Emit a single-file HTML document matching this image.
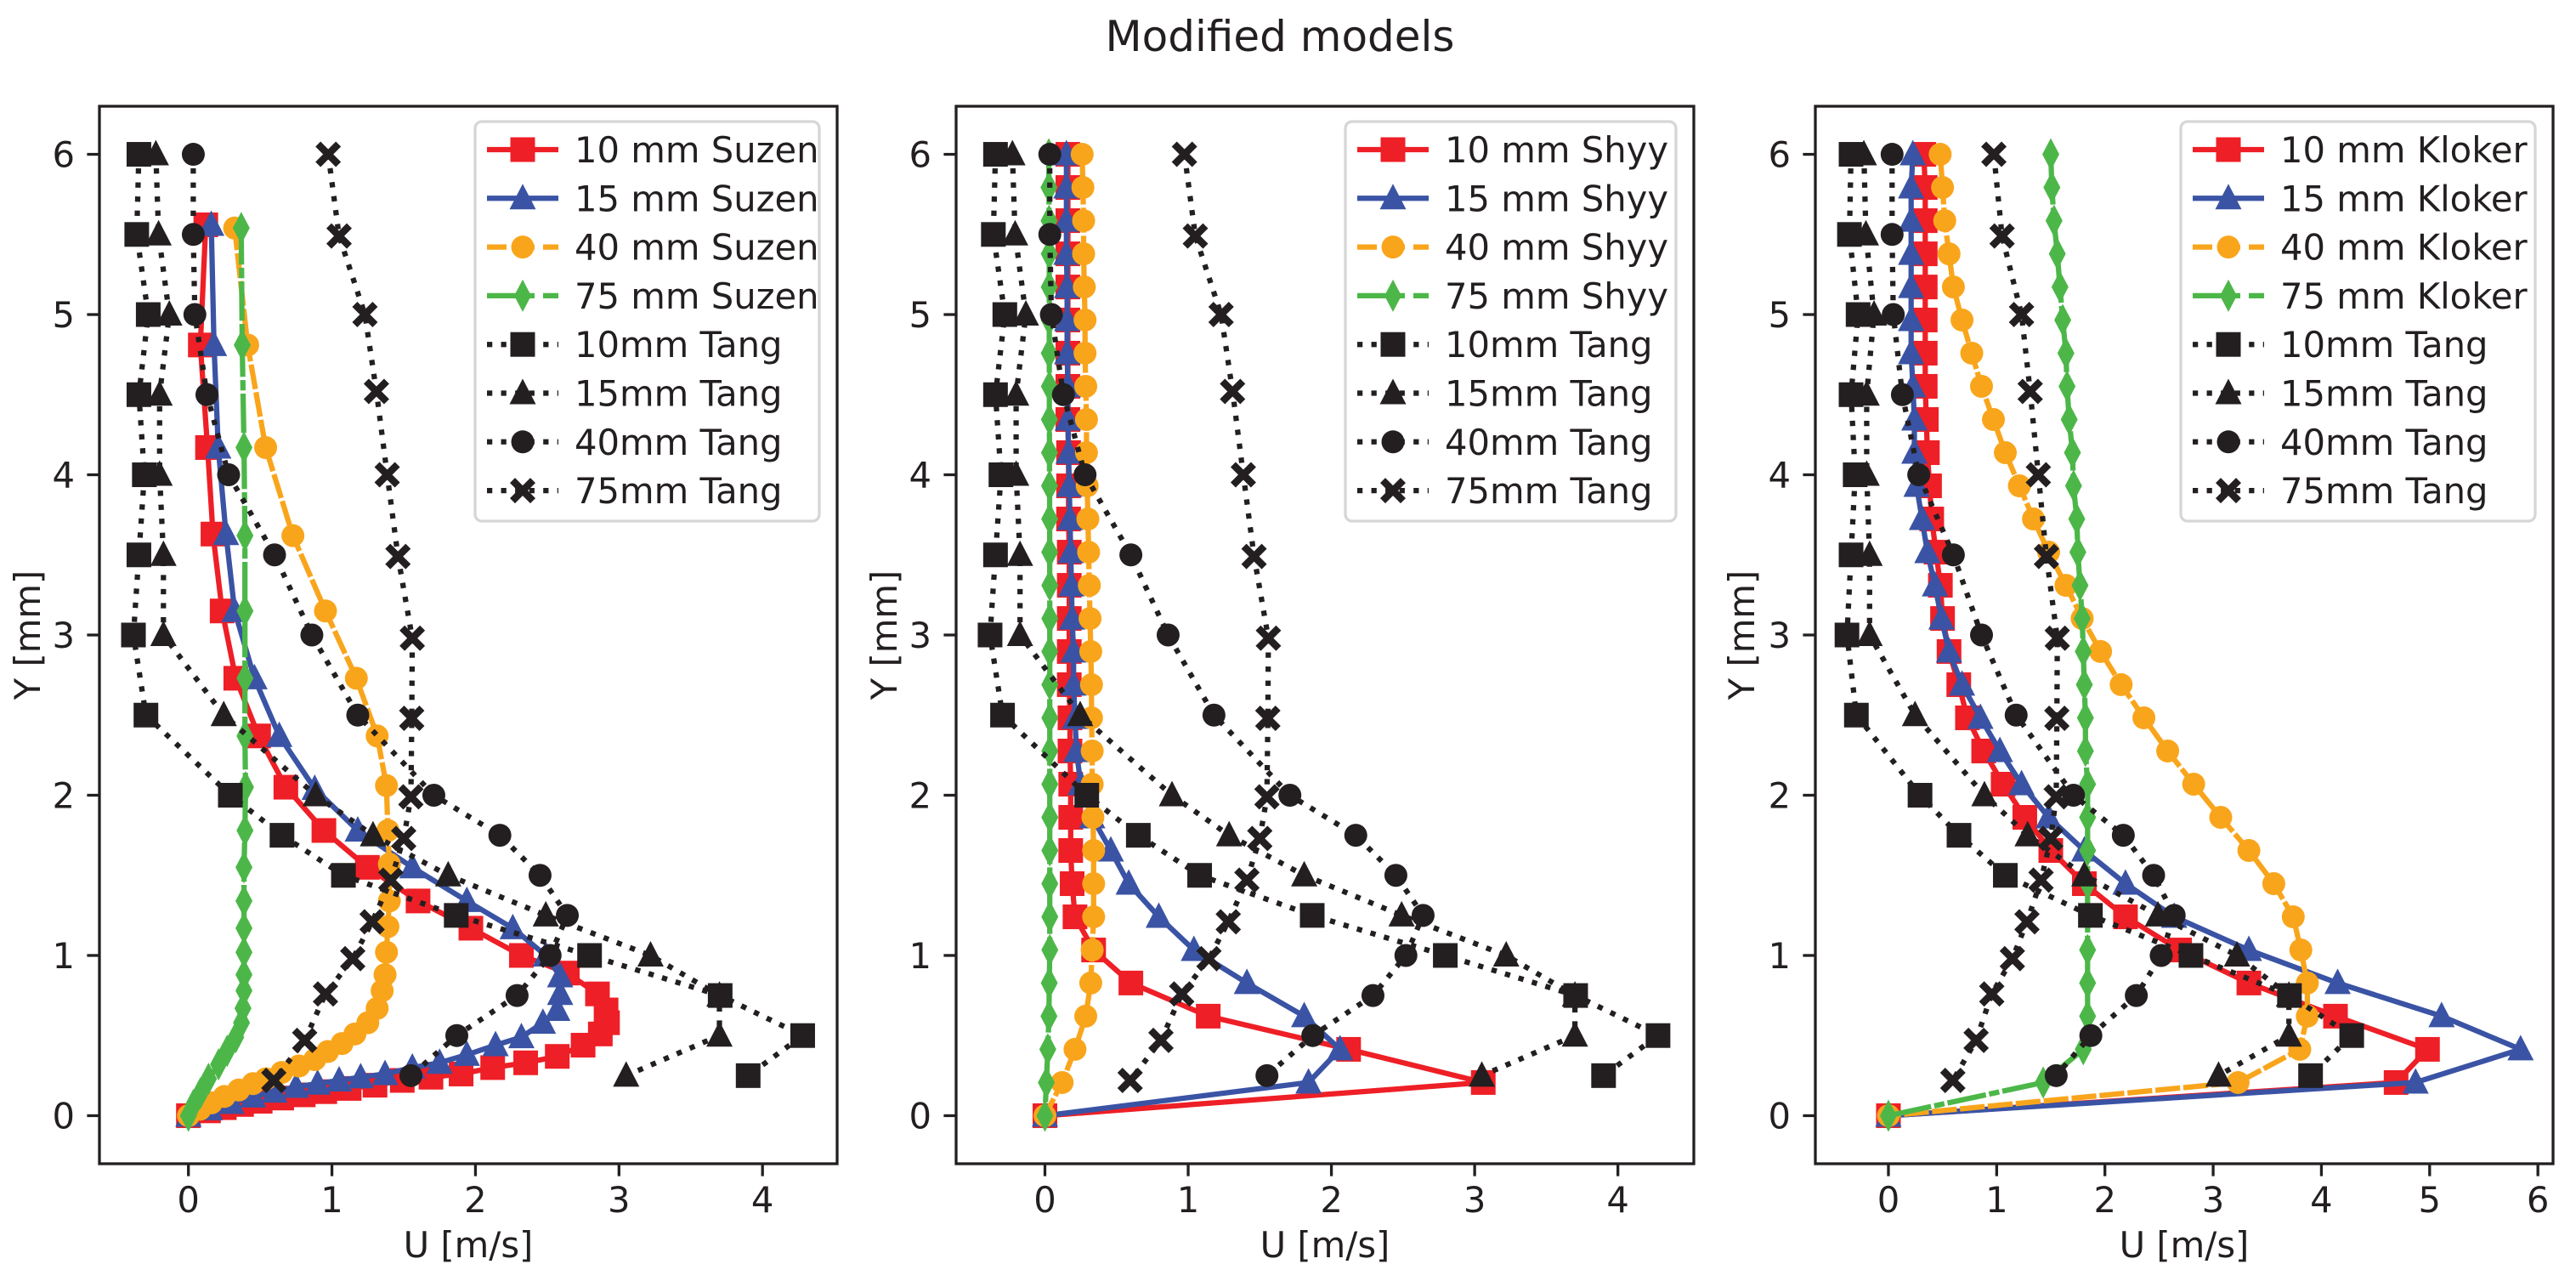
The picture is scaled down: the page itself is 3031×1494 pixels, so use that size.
<!DOCTYPE html>
<html><head><meta charset="utf-8"><title>Modified models</title>
<style>
html,body{margin:0;padding:0;background:#fff;}
svg{display:block;font-family:"DejaVu Sans","Liberation Sans",sans-serif;}
</style></head>
<body>
<svg id="fig" width="3031" height="1494" viewBox="0 0 3031 1494" xmlns="http://www.w3.org/2000/svg">
<rect x="0" y="0" width="3031" height="1494" fill="#fff"/>
<text x="1506" y="60" font-size="50" text-anchor="middle" fill="#231f20">Modified models</text>
</svg>
<script>
// ---- shared reference data (Tang experiment) ----
const tang10Y = [6,5.5,5,4.5,4,3.5,3,2.5,2,1.75,1.5,1.25,1,0.75,0.5,0.25];
const tang10U = [-0.345,-0.36,-0.28,-0.345,-0.307,-0.345,-0.383,-0.296,0.292,0.652,1.08,1.866,2.795,3.705,4.28,3.90];
const tang15Y = [6,5.5,5,4.5,4,3.5,3,2.5,2,1.75,1.5,1.25,1,0.75,0.5,0.25];
const tang15U = [-0.227,-0.208,-0.133,-0.201,-0.201,-0.174,-0.174,0.246,0.887,1.286,1.81,2.49,3.22,3.70,3.70,3.05];
const tang40Y = [6,5.5,5,4.5,4,3.5,3,2.5,2,1.75,1.5,1.25,1,0.75,0.5,0.25];
const tang40U = [0.034,0.034,0.045,0.129,0.28,0.60,0.86,1.18,1.71,2.17,2.45,2.64,2.52,2.29,1.87,1.55];
const tang75Y = [6,5.49,5.0,4.52,4.0,3.49,2.98,2.48,1.99,1.73,1.47,1.21,0.98,0.76,0.47,0.22];
const tang75U = [0.974,1.05,1.23,1.31,1.385,1.46,1.56,1.556,1.55,1.50,1.41,1.28,1.145,0.955,0.81,0.595];

// ---- Suzen model ----
const suzen10Y = [5.56,4.81,4.17,3.63,3.15,2.73,2.37,2.05,1.78,1.55,1.34,1.17,1.0,0.89,0.76,0.66,0.58,0.51,0.44,0.37,0.33,0.30,0.26,0.24,0.22,0.19,0.17,0.15,0.13,0.11,0.09,0.07,0.05,0.03,0];
const suzen10U = [0.121,0.083,0.133,0.171,0.235,0.33,0.489,0.679,0.944,1.247,1.60,1.968,2.32,2.64,2.85,2.91,2.92,2.87,2.75,2.57,2.35,2.12,1.90,1.69,1.49,1.3,1.12,0.95,0.8,0.65,0.5,0.37,0.25,0.14,0];
const suzen15Y = [5.56,4.81,4.17,3.63,3.15,2.73,2.37,2.04,1.78,1.55,1.34,1.17,1.0,0.87,0.76,0.66,0.58,0.49,0.44,0.38,0.33,0.30,0.26,0.24,0.22,0.2,0.18,0.15,0.12,0.08,0.04,0];
const suzen15U = [0.159,0.178,0.208,0.262,0.322,0.46,0.633,0.88,1.18,1.56,1.94,2.26,2.49,2.59,2.59,2.57,2.47,2.32,2.14,1.94,1.75,1.56,1.37,1.2,1.05,0.9,0.75,0.6,0.45,0.3,0.15,0];
const suzen40Y = [5.54,4.81,4.17,3.62,3.15,2.73,2.37,2.06,1.78,1.57,1.34,1.18,1.02,0.88,0.78,0.67,0.58,0.51,0.45,0.40,0.35,0.31,0.27,0.23,0.2,0.16,0.12,0.08,0.04,0];
const suzen40U = [0.322,0.413,0.538,0.728,0.955,1.17,1.315,1.38,1.39,1.40,1.40,1.39,1.38,1.37,1.35,1.315,1.25,1.16,1.07,0.97,0.88,0.77,0.65,0.54,0.45,0.35,0.25,0.16,0.08,0];
const suzen75Y = [5.54,4.81,4.17,3.62,3.15,2.73,2.37,2.05,1.78,1.55,1.34,1.17,1.02,0.88,0.78,0.67,0.58,0.49,0.405,0.32,0.23,0.14,0.066,0];
const suzen75U = [0.368,0.375,0.387,0.394,0.394,0.394,0.394,0.398,0.394,0.387,0.387,0.387,0.387,0.387,0.387,0.38,0.37,0.33,0.27,0.21,0.14,0.083,0.034,0];

// ---- Shyy & Kloker models on a uniform 30-point grid ----
const gridY = [6,5.793,5.586,5.379,5.172,4.966,4.759,4.552,4.345,4.138,3.931,3.724,3.517,3.31,3.103,2.897,2.69,2.483,2.276,2.069,1.862,1.655,1.448,1.241,1.034,0.828,0.621,0.414,0.207,0];
const shyy10U = [0.16,0.16,0.16,0.16,0.16,0.16,0.16,0.16,0.16,0.165,0.165,0.165,0.17,0.17,0.17,0.17,0.17,0.175,0.175,0.18,0.18,0.18,0.19,0.21,0.34,0.60,1.14,2.12,3.06,0];
const shyy15U = [0.15,0.15,0.15,0.15,0.155,0.155,0.155,0.16,0.16,0.165,0.17,0.175,0.18,0.185,0.19,0.2,0.2,0.21,0.22,0.25,0.33,0.46,0.585,0.795,1.04,1.41,1.81,2.06,1.84,0];
const shyy40U = [0.26,0.265,0.27,0.27,0.275,0.28,0.28,0.285,0.29,0.29,0.295,0.3,0.305,0.31,0.315,0.32,0.325,0.325,0.33,0.33,0.335,0.34,0.34,0.34,0.33,0.32,0.285,0.21,0.12,0];
const shyy75U = [0.027,0.028,0.029,0.03,0.03,0.03,0.03,0.031,0.031,0.032,0.032,0.033,0.033,0.034,0.034,0.034,0.034,0.034,0.034,0.034,0.034,0.034,0.034,0.034,0.034,0.03,0.028,0.02,0.01,0];
const kloker10U = [0.327,0.34,0.34,0.34,0.34,0.34,0.34,0.34,0.35,0.36,0.38,0.40,0.44,0.48,0.50,0.56,0.65,0.73,0.88,1.06,1.26,1.50,1.81,2.19,2.69,3.33,4.13,4.98,4.69,0];
const kloker15U = [0.226,0.21,0.21,0.21,0.21,0.21,0.21,0.226,0.24,0.24,0.26,0.31,0.36,0.43,0.49,0.56,0.68,0.85,1.03,1.23,1.48,1.81,2.19,2.64,3.33,4.15,5.11,5.84,4.87,0];
const kloker40U = [0.478,0.50,0.52,0.56,0.60,0.68,0.77,0.86,0.97,1.08,1.21,1.34,1.48,1.64,1.79,1.96,2.15,2.36,2.58,2.82,3.07,3.33,3.56,3.74,3.81,3.87,3.87,3.80,3.23,0];
const kloker75U = [1.50,1.51,1.53,1.56,1.585,1.61,1.64,1.65,1.67,1.70,1.71,1.74,1.75,1.77,1.79,1.80,1.81,1.82,1.82,1.84,1.84,1.84,1.84,1.84,1.84,1.84,1.84,1.80,1.43,0];

const xTicks12 = [0,1,2,3,4];
const xTicks3 = [0,1,2,3,4,5,6];
const yTicks = [0,1,2,3,4,5,6];

const NS = "http://www.w3.org/2000/svg";
const svg = document.getElementById('fig');
const C = {red:'#ee1f26', blue:'#3a53a4', orange:'#f9a51c', green:'#4cb748', black:'#231f20'};
function mk(tag, attrs, parent){ const e=document.createElementNS(NS,tag); for(const k in attrs) e.setAttribute(k,attrs[k]); (parent||svg).appendChild(e); return e; }

function marker(g, type, x, y, color){
  let e;
  if(type==='s'){ e=mk('rect',{x:x-14.5,y:y-14.5,width:29,height:29,fill:color},g); }
  else if(type==='^'){ e=mk('polygon',{points:`${x},${y-17} ${x-15.5},${y+13} ${x+15.5},${y+13}`,fill:color},g); }
  else if(type==='o'){ e=mk('circle',{cx:x,cy:y,r:13.5,fill:color},g); }
  else if(type==='d'){ e=mk('polygon',{points:`${x},${y-19} ${x+10},${y} ${x},${y+19} ${x-10},${y}`,fill:color},g); }
  else { const a=15,b=6; e=mk('polygon',{points:`${x-a+b},${y-a} ${x},${y-b} ${x+a-b},${y-a} ${x+a},${y-a+b} ${x+b},${y} ${x+a},${y+a-b} ${x+a-b},${y+a} ${x},${y+b} ${x-a+b},${y+a} ${x-a},${y+a-b} ${x-b},${y} ${x-a},${y-a+b}`,fill:color},g); }
  return e;
}
const DASH = {'-':null,'--':'23 10','-.':'40 10 6 10',':':'6.25 10.3'};

function panel(p){
  const L=p.left, R=p.left+868, T=125, B=1369;
  const sx = v => L + (v - p.xmin)/(p.xmax-p.xmin)*(R-L);
  const sy = v => B - (v - (-0.3))/6.6*(B-T);
  const g = mk('g',{});
  
  
  const clipId='clip'+p.left;
  const cp = mk('clipPath',{id:clipId},g); mk('rect',{x:L,y:T,width:R-L,height:B-T},cp);
  const plot = mk('g',{'clip-path':`url(#${clipId})`},g);
  p.series.forEach(s=>{
    const sg = mk('g',{},plot);
    
    
    const pts = s.x.map((v,i)=>sx(v).toFixed(1)+','+sy(s.y[i]).toFixed(1)).join(' ');
    const pl = mk('polyline',{points:pts,fill:'none',stroke:s.c,'stroke-width':6.25,'stroke-linejoin':'round','stroke-linecap':s.ls===':'?'butt':'square'},sg);
    if(DASH[s.ls]) pl.setAttribute('stroke-dasharray',DASH[s.ls]);
    
    
    s.x.forEach((v,i)=>{
      const m = marker(sg, s.m, sx(v), sy(s.y[i]), s.c);
      
      
    });
  });
  // frame
  const fr = mk('rect',{x:L,y:T,width:R-L,height:B-T,fill:'none',stroke:C.black,'stroke-width':3.3},g);
  
  
  p.xt.forEach(t=>{
    const x=sx(t);
    mk('line',{x1:x,y1:B,x2:x,y2:B+14.6,stroke:C.black,'stroke-width':3.3},g);
    const tx = mk('text',{x:x,y:1426,'font-size':41.7,'text-anchor':'middle',fill:C.black},g);
    tx.textContent = t;
    
    
  });
  yTicks.forEach(t=>{
    const y=sy(t);
    mk('line',{x1:L-14.6,y1:y,x2:L,y2:y,stroke:C.black,'stroke-width':3.3},g);
    const tx = mk('text',{x:L-29,y:y+15,'font-size':41.7,'text-anchor':'end',fill:C.black},g);
    tx.textContent = t;
    
    
  });
  const xl = mk('text',{x:(L+R)/2,y:1479,'font-size':41.7,'text-anchor':'middle',fill:C.black},g);
  xl.textContent='U [m/s]';
  
  
  const yl = mk('text',{x:0,y:0,'font-size':41.7,'text-anchor':'middle',fill:C.black,transform:`translate(${p.ylx},${(T+B)/2}) rotate(-90)`},g);
  yl.textContent='Y [mm]';
  
  
  // legend
  const lg = mk('g',{},g);
  
  
  const lx = R-21-p.legW;
  mk('rect',{x:lx,y:143,width:p.legW,height:470,rx:8,fill:'#fff','fill-opacity':0.8,stroke:'#d6d6d6','stroke-width':3.3},lg);
  p.series.forEach((s,i)=>{
    const y = 176 + i*57.3;
    const eg = mk('g',{},lg);
    
    
    const hx0 = lx+14, hx1 = lx+98;
    const ln = mk('line',{x1:hx0,y1:y,x2:hx1,y2:y,stroke:s.c,'stroke-width':6.25},eg);
    if(DASH[s.ls]) ln.setAttribute('stroke-dasharray',DASH[s.ls]);
    marker(eg, s.m, (hx0+hx1)/2, y, s.c);
    const t = mk('text',{x:lx+117,y:y+15,'font-size':41.7,fill:C.black},eg);
    t.textContent = s.label;
  });
}

function tangSeries(){
  return [
    {id:'tang-10mm',label:'10mm Tang',x:tang10U,y:tang10Y,c:C.black,m:'s',ls:':'},
    {id:'tang-15mm',label:'15mm Tang',x:tang15U,y:tang15Y,c:C.black,m:'^',ls:':'},
    {id:'tang-40mm',label:'40mm Tang',x:tang40U,y:tang40Y,c:C.black,m:'o',ls:':'},
    {id:'tang-75mm',label:'75mm Tang',x:tang75U,y:tang75Y,c:C.black,m:'X',ls:':'}
  ];
}

panel({name:'suzen-panel',left:117,xmin:-0.62,xmax:4.52,xt:xTicks12,ylx:47,legW:405,
  series:[
    {id:'suzen-10mm',label:'10 mm Suzen',x:suzen10U,y:suzen10Y,c:C.red,m:'s',ls:'-'},
    {id:'suzen-15mm',label:'15 mm Suzen',x:suzen15U,y:suzen15Y,c:C.blue,m:'^',ls:'-'},
    {id:'suzen-40mm',label:'40 mm Suzen',x:suzen40U,y:suzen40Y,c:C.orange,m:'o',ls:'--'},
    {id:'suzen-75mm',label:'75 mm Suzen',x:suzen75U,y:suzen75Y,c:C.green,m:'d',ls:'-.'}
  ].concat(tangSeries())});

panel({name:'shyy-panel',left:1125,xmin:-0.62,xmax:4.53,xt:xTicks12,ylx:1055,legW:389,
  series:[
    {id:'shyy-10mm',label:'10 mm Shyy',x:shyy10U,y:gridY,c:C.red,m:'s',ls:'-'},
    {id:'shyy-15mm',label:'15 mm Shyy',x:shyy15U,y:gridY,c:C.blue,m:'^',ls:'-'},
    {id:'shyy-40mm',label:'40 mm Shyy',x:shyy40U,y:gridY,c:C.orange,m:'o',ls:'--'},
    {id:'shyy-75mm',label:'75 mm Shyy',x:shyy75U,y:gridY,c:C.green,m:'d',ls:'-.'}
  ].concat(tangSeries())});

panel({name:'kloker-panel',left:2136,xmin:-0.675,xmax:6.14,xt:xTicks3,ylx:2064,legW:417,
  series:[
    {id:'kloker-10mm',label:'10 mm Kloker',x:kloker10U,y:gridY,c:C.red,m:'s',ls:'-'},
    {id:'kloker-15mm',label:'15 mm Kloker',x:kloker15U,y:gridY,c:C.blue,m:'^',ls:'-'},
    {id:'kloker-40mm',label:'40 mm Kloker',x:kloker40U,y:gridY,c:C.orange,m:'o',ls:'--'},
    {id:'kloker-75mm',label:'75 mm Kloker',x:kloker75U,y:gridY,c:C.green,m:'d',ls:'-.'}
  ].concat(tangSeries())});
</script>
</body></html>
